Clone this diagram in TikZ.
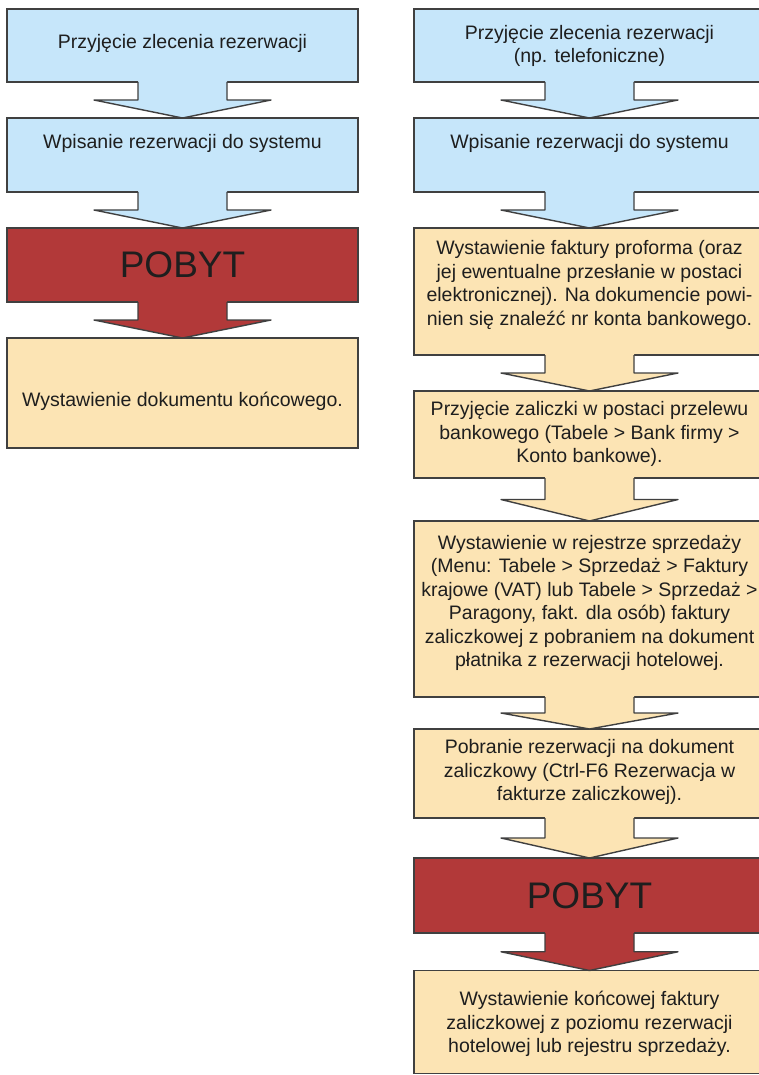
\documentclass[tikz,border=0pt]{standalone}
\usepackage{fontspec}
\setmainfont{Liberation Sans}
\usetikzlibrary{calc}
\definecolor{boxblue}{RGB}{198,230,250}
\definecolor{boxtan}{RGB}{252,228,180}
\definecolor{boxred}{RGB}{178,57,57}
\definecolor{edgegray}{RGB}{64,64,64}
\definecolor{ink}{RGB}{30,30,30}
\tikzset{
  flowbox/.style={draw=edgegray, line width=1.4pt, rectangle, inner sep=0pt, outer sep=0pt, minimum width=351pt},
  arrowline/.style={draw=edgegray, line width=1.4pt, line join=round},
  lbl/.style={text=ink, align=center, inner sep=0pt, font=\fontsize{19.5}{23.5}\selectfont},
  biglbl/.style={text=ink, inner sep=0pt, font=\fontsize{37}{40}\selectfont},
}
\newcommand\flowarrow[3]{%
  \fill[#3] let \p1=(#1.south), \p2=(#2.north), \n1={(\y1+\y2)/2} in
    (\x1-44.5pt,\y1+1pt) -- (\x1-44.5pt,\n1) -- (\x1-88.5pt,\n1) -- (\x2,\y2)
    -- (\x1+88.5pt,\n1) -- (\x1+44.5pt,\n1) -- (\x1+44.5pt,\y1+1pt) -- cycle;
  \draw[arrowline] let \p1=(#1.south), \p2=(#2.north), \n1={(\y1+\y2)/2} in
    (\x1-44.5pt,\y1) -- (\x1-44.5pt,\n1) -- (\x1-88.5pt,\n1) -- (\x2,\y2)
    -- (\x1+88.5pt,\n1) -- (\x1+44.5pt,\n1) -- (\x1+44.5pt,\y1);
}
\begin{document}
\begin{tikzpicture}[x=1pt,y=-1pt]
\useasboundingbox (0,0) rectangle (759,1075);
\fill[white] (0,0) rectangle (759,1075);
\clip (0,0) rectangle (759,1075);

% ---------------- left column ----------------
\node[flowbox, fill=boxblue, minimum height=73pt] (L1) at (182.5,45.5) {};
\node[lbl] (L1t) at (182.5,43) {Przyjęcie zlecenia rezerwacji};
\node[flowbox, fill=boxblue, minimum height=74pt] (L2) at (182.5,155) {};
\flowarrow{L1}{L2}{boxblue}
\node[lbl] (L2t) at (182.5,143) {Wpisanie rezerwacji do systemu};
\node[flowbox, fill=boxred, minimum height=74pt] (L3) at (182.5,265) {};
\flowarrow{L2}{L3}{boxblue}
\node[biglbl] (L3t) at (182.5,265) {POBYT};
\node[flowbox, fill=boxtan, minimum height=110pt] (L4) at (182.5,393) {};
\flowarrow{L3}{L4}{boxred}
\node[lbl] (L4t) at (182.5,401) {Wystawienie dokumentu końcowego.};

% ---------------- right column ----------------
\node[flowbox, fill=boxblue, minimum height=73pt] (R1) at (589.5,45.5) {};
\node[lbl] (R1t) at (589.5,46) {Przyjęcie zlecenia rezerwacji\\(np. telefoniczne)};
\node[flowbox, fill=boxblue, minimum height=74pt] (R2) at (589.5,155) {};
\flowarrow{R1}{R2}{boxblue}
\node[lbl] (R2t) at (589.5,143) {Wpisanie rezerwacji do systemu};
\node[flowbox, fill=boxtan, minimum height=127pt] (R3) at (589.5,291.5) {};
\flowarrow{R2}{R3}{boxblue}
\node[lbl] (R3t) at (589.5,285) {Wystawienie faktury proforma (oraz\\jej ewentualne przesłanie w postaci\\elektronicznej). Na dokumencie powi-\\nien się znaleźć nr konta bankowego.};
\node[flowbox, fill=boxtan, minimum height=87pt] (R4) at (589.5,434.5) {};
\flowarrow{R3}{R4}{boxtan}
\node[lbl] (R4t) at (589.5,434) {Przyjęcie zaliczki w postaci przelewu\\bankowego (Tabele > Bank firmy >\\Konto bankowe).};
\node[flowbox, fill=boxtan, minimum height=176pt] (R5) at (589.5,609) {};
\flowarrow{R4}{R5}{boxtan}
\node[lbl] (R5t) at (589.5,603) {Wystawienie w rejestrze sprzedaży\\(Menu: Tabele > Sprzedaż > Faktury\\krajowe (VAT) lub Tabele > Sprzedaż >\\Paragony, fakt. dla osób) faktury\\zaliczkowej z pobraniem na dokument\\płatnika z rezerwacji hotelowej.};
\node[flowbox, fill=boxtan, minimum height=89pt] (R6) at (589.5,773.5) {};
\flowarrow{R5}{R6}{boxtan}
\node[lbl] (R6t) at (589.5,772) {Pobranie rezerwacji na dokument\\zaliczkowy (Ctrl-F6 Rezerwacja w\\fakturze zaliczkowej).};
\node[flowbox, fill=boxred, minimum height=75pt] (R7) at (589.5,895.5) {};
\flowarrow{R6}{R7}{boxtan}
\node[biglbl] (R7t) at (589.5,896) {POBYT};
\node[flowbox, fill=boxtan, minimum height=103pt] (R8) at (589.5,1022) {};
\flowarrow{R7}{R8}{boxred}
\node[lbl] (R8t) at (589.5,1024) {Wystawienie końcowej faktury\\zaliczkowej z poziomu rezerwacji\\hotelowej lub rejestru sprzedaży.};
\end{tikzpicture}
\end{document}
